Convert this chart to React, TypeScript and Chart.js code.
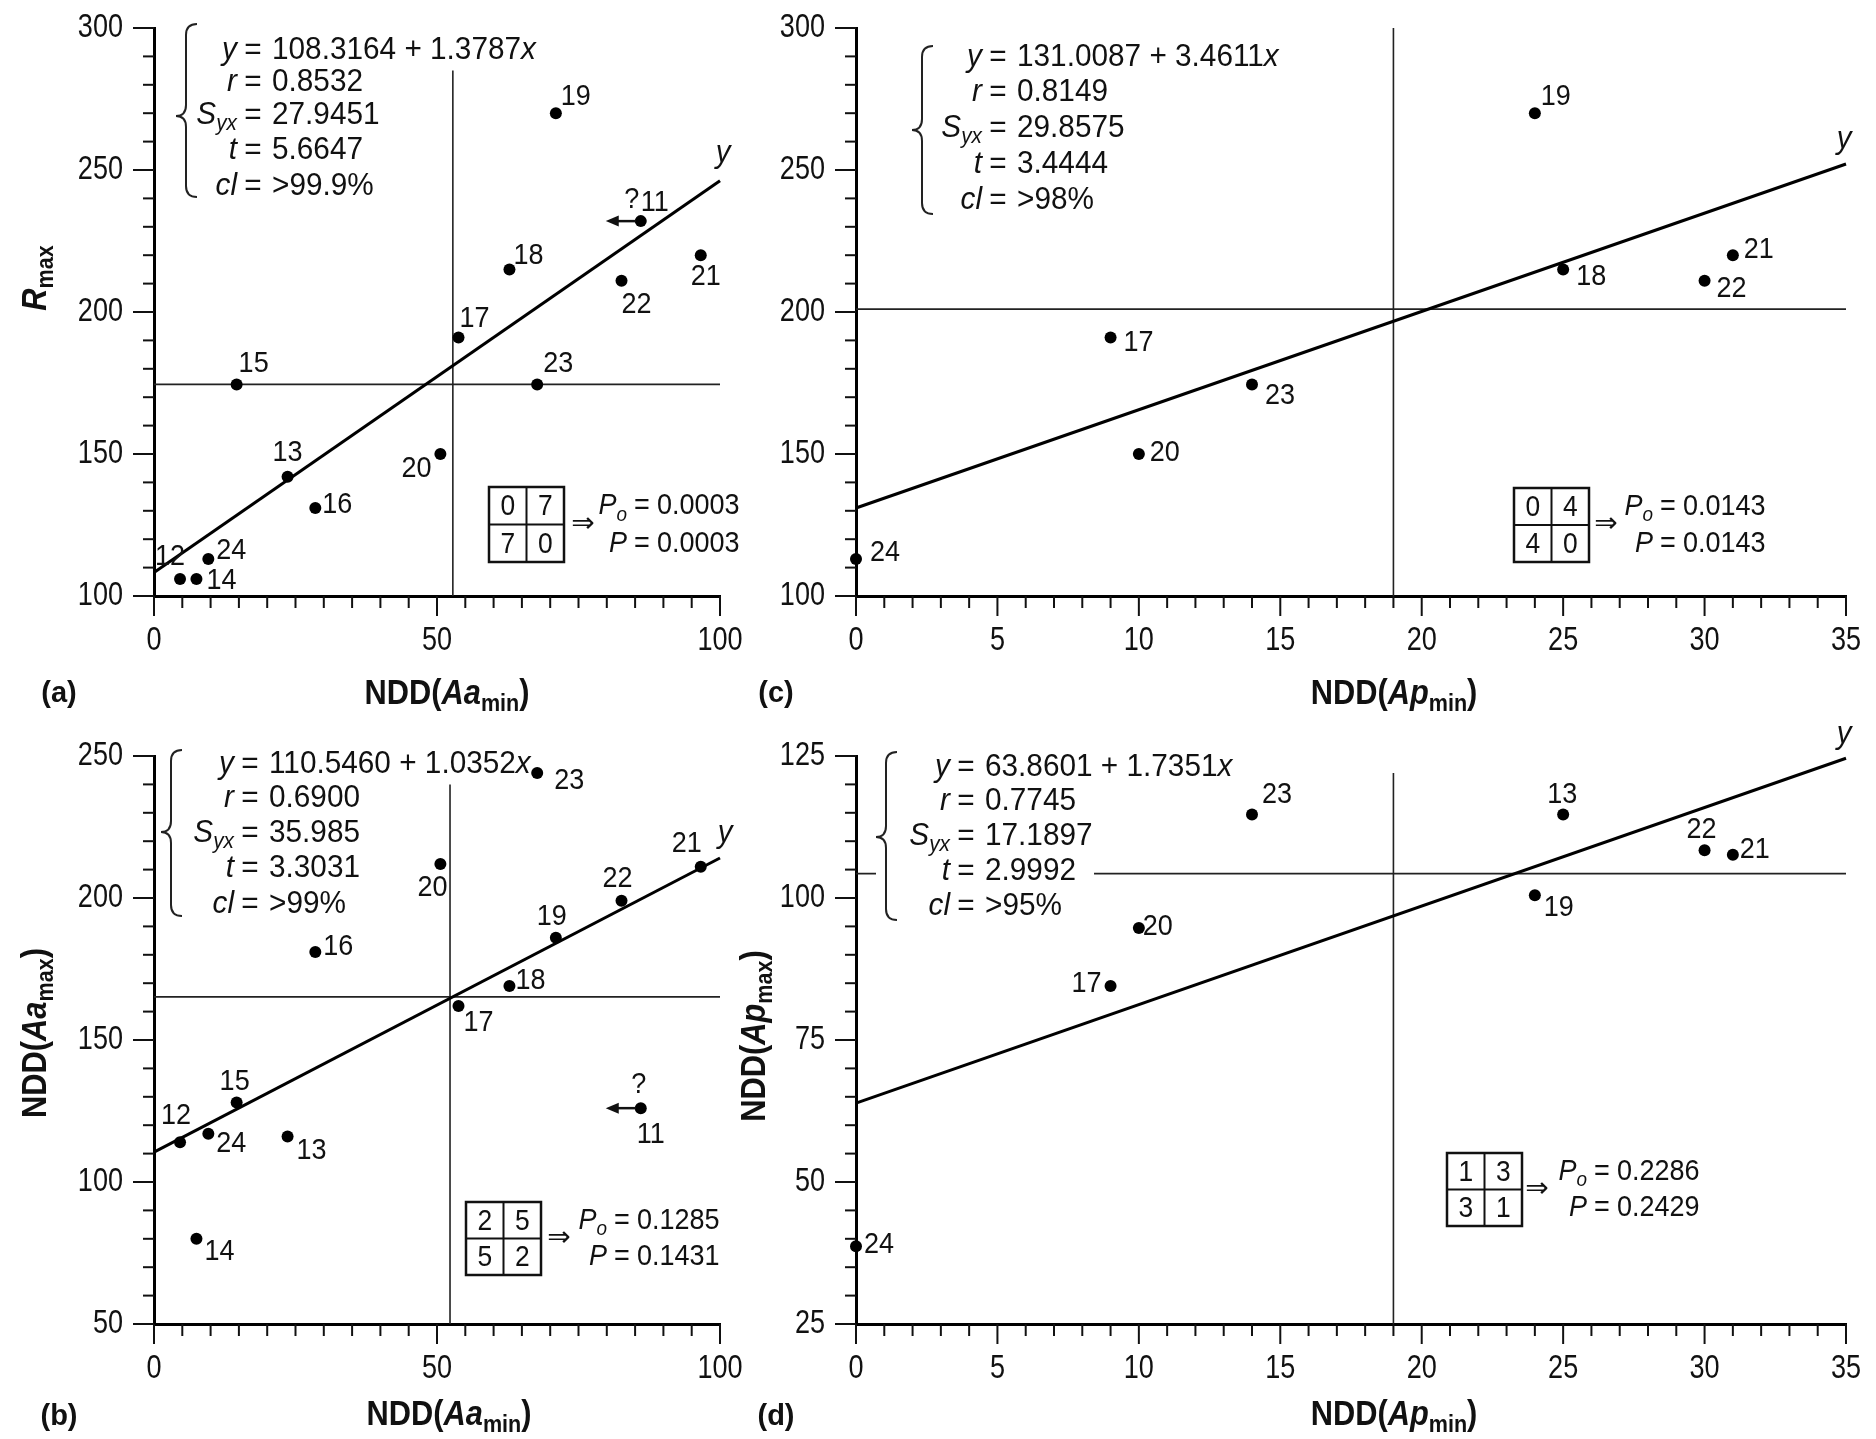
import React, { useEffect, useRef } from 'react';
import { Chart, registerables } from 'chart.js';

Chart.register(...registerables);

// ---------------- fonts / colours ----------------
const FAM = "'Liberation Sans', Arial, sans-serif";
const ARROW_FAM = "'DejaVu Sans', 'Liberation Sans', sans-serif";
const INK = '#111';

// ---------------- data ----------------
// Panels (a) and (b): samples plotted against NDD(Aa_min)
const samplesAa = ['11', '12', '13', '14', '15', '16', '17', '18', '19', '20', '21', '22', '23', '24'];
const nddAaMin = [86.0, 4.6, 23.6, 7.5, 14.6, 28.5, 53.8, 62.8, 71.0, 50.6, 96.6, 82.6, 67.7, 9.6];
const rMaxVsAa = [232, 106, 142, 106, 174.5, 131, 191, 215, 270, 150, 220, 211, 174.5, 113];
const nddAaMax = [126, 114, 116, 80, 128, 181, 162, 169, 186, 212, 211, 199, 244, 117];

// Panel (c): R_max against NDD(Ap_min)
const samplesApC = ['17', '18', '19', '20', '21', '22', '23', '24'];
const nddApMinC = [9, 25, 24, 10, 31, 30, 14, 0];
const rMaxVsAp = [191, 215, 270, 150, 220, 211, 174.5, 113];

// Panel (d): NDD(Ap_max) against NDD(Ap_min)
const samplesApD = ['13', '17', '19', '20', '21', '22', '23', '24'];
const nddApMinD = [25, 9, 24, 10, 31, 30, 14, 0];
const nddApMax = [114.7, 84.5, 100.5, 94.7, 107.6, 108.4, 114.7, 38.7];

// regression line end points
const fitXa = [0, 100];
const fitYa = [108.3, 246.2];
const fitXb = [0, 100];
const fitYb = [110.5, 214.1];
const fitXc = [0, 35];
const fitYc = [131.0, 252.1];
const fitXd = [0, 35];
const fitYd = [63.9, 124.6];

// median (quadrant) lines
const medVxA = [52.8, 52.8];
const medVyA = [100, 285];
const medHxA = [0, 100];
const medHyA = [174.5, 174.5];
const medVxB = [52.3, 52.3];
const medVyB = [50, 240];
const medHxB = [0, 100];
const medHyB = [165.2, 165.2];
const medVxC = [19, 19];
const medVyC = [100, 300];
const medHxC = [0, 35];
const medHyC = [201, 201];
const medVxD = [19, 19];
const medVyD = [25, 122];
const medHxD = [0, 35];
const medHyD = [104.3, 104.3];

// tick labels
const xTickLabelsAa = [0, 50, 100];
const xTickLabelsAp = [0, 5, 10, 15, 20, 25, 30, 35];
const yTickLabelsA = [100, 150, 200, 250, 300];
const yTickLabelsB = [50, 100, 150, 200, 250];
const yTickLabelsC = [100, 150, 200, 250, 300];
const yTickLabelsD = [25, 50, 75, 100, 125];

// statistics: [equation, r, Syx, t, cl]
const statsA = ['108.3164 + 1.3787', '0.8532', '27.9451', '5.6647', '>99.9%'];
const statsB = ['110.5460 + 1.0352', '0.6900', '35.985', '3.3031', '>99%'];
const statsC = ['131.0087 + 3.4611', '0.8149', '29.8575', '3.4444', '>98%'];
const statsD = ['63.8601 + 1.7351', '0.7745', '17.1897', '2.9992', '>95%'];

// 2x2 tables and probabilities [Po, P]
const tableA = ['0', '7', '7', '0'];
const probA = ['0.0003', '0.0003'];
const tableB = ['2', '5', '5', '2'];
const probB = ['0.1285', '0.1431'];
const tableC = ['0', '4', '4', '0'];
const probC = ['0.0143', '0.0143'];
const tableD = ['1', '3', '3', '1'];
const probD = ['0.2286', '0.2429'];

// ---------------- label placement (style, px offsets) ----------------
const labelOffA = [[14, -18], [-10, -22], [0, -24], [25, 2], [17, -21], [22, -3], [16, -19], [19, -14], [20, -16], [-24, 15], [5, 22], [15, 24], [21, -21], [23, -8]];
const labelOffB = [[10, 27], [-4, -27], [24, 14], [23, 13], [-2, -21], [23, -5], [20, 17], [21, -5], [-4, -21], [-8, 24], [-14, -23], [-4, -22], [32, 8], [23, 10]];
const labelOffC = [[28, 5], [28, 7], [21, -16], [26, -1], [26, -5], [27, 8], [28, 11], [29, -6]];
const labelOffD = [[-1, -20], [-24, -2], [24, 13], [19, -1], [22, -5], [-3, -21], [25, -20], [23, -1]];

// text styles
const TICK = { size: 33, hs: 0.82 };
const LBL = { size: 30, hs: 0.9 };
const ANN = { size: 31, hs: 0.96 };
const PRB = { size: 30, hs: 0.9 };
const TTL = { size: 35, hs: 0.88 };

// ---------------- helpers ----------------
type Part = { t: string; it?: boolean; b?: boolean; sub?: boolean };
type TOpt = { bold?: boolean; hs?: number; fam?: string };

function fontStr(size: number, it?: boolean, b?: boolean, fam = FAM) {
  return `${it ? 'italic ' : ''}${b ? 'bold ' : ''}${size}px ${fam}`;
}

function richWidth(ctx: CanvasRenderingContext2D, parts: Part[], size: number, o: TOpt = {}) {
  let w = 0;
  const hs = o.hs ?? 1;
  for (const p of parts) {
    const s = p.sub ? size * 0.7 : size;
    ctx.font = fontStr(s, p.it, p.b ?? o.bold, o.fam ?? FAM);
    w += ctx.measureText(p.t).width * hs;
  }
  return w;
}

function drawRich(
  ctx: CanvasRenderingContext2D,
  parts: Part[],
  x: number,
  y: number,
  size: number,
  align: 'left' | 'right' | 'center',
  o: TOpt = {}
) {
  const hs = o.hs ?? 1;
  const w = richWidth(ctx, parts, size, o);
  let cx = align === 'left' ? x : align === 'right' ? x - w : x - w / 2;
  ctx.textAlign = 'left';
  ctx.textBaseline = 'middle';
  for (const p of parts) {
    const s = p.sub ? size * 0.7 : size;
    ctx.font = fontStr(s, p.it, p.b ?? o.bold, o.fam ?? FAM);
    ctx.save();
    ctx.translate(cx, p.sub ? y + size * 0.3 : y);
    ctx.scale(hs, 1);
    ctx.fillText(p.t, 0, 0);
    ctx.restore();
    cx += ctx.measureText(p.t).width * hs;
  }
  return w;
}

function seg(ctx: CanvasRenderingContext2D, x1: number, y1: number, x2: number, y2: number) {
  ctx.beginPath();
  ctx.moveTo(x1, y1);
  ctx.lineTo(x2, y2);
  ctx.stroke();
}

function statLines(s: string[]): { lhs: Part[]; rhs: Part[] }[] {
  return [
    { lhs: [{ t: 'y', it: true }], rhs: [{ t: s[0] }, { t: 'x', it: true }] },
    { lhs: [{ t: 'r', it: true }], rhs: [{ t: s[1] }] },
    { lhs: [{ t: 'S', it: true }, { t: 'yx', it: true, sub: true }], rhs: [{ t: s[2] }] },
    { lhs: [{ t: 't', it: true }], rhs: [{ t: s[3] }] },
    { lhs: [{ t: 'cl', it: true }], rhs: [{ t: s[4] }] },
  ];
}

const titleAaMin: Part[] = [{ t: 'NDD(' }, { t: 'Aa', it: true }, { t: 'min', sub: true }, { t: ')' }];
const titleApMin: Part[] = [{ t: 'NDD(' }, { t: 'Ap', it: true }, { t: 'min', sub: true }, { t: ')' }];
const titleRmax: Part[] = [{ t: 'R', it: true }, { t: 'max', sub: true }];
const titleAaMax: Part[] = [{ t: 'NDD(' }, { t: 'Aa', it: true }, { t: 'max', sub: true }, { t: ')' }];
const titleApMax: Part[] = [{ t: 'NDD(' }, { t: 'Ap', it: true }, { t: 'max', sub: true }, { t: ')' }];

interface PanelCfg {
  key: string;
  left: number; top: number; width: number; height: number;
  area: { l: number; t: number; r: number; b: number };
  xr: { min: number; max: number; step: number; labels: number[] };
  yr: { min: number; max: number; step: number; labels: number[] };
  ids: string[]; xs: number[]; ys: number[]; offs: number[][];
  fitX: number[]; fitY: number[]; fitLabelOff: number[];
  medVx: number[]; medVy: number[]; medHx: number[]; medHy: number[];
  stats: string[]; eqX: number; statY: number[];
  brace: { tip: number; spine: number; end: number; top: number; mid: number; bottom: number };
  mask: number;
  table: string[]; prob: string[];
  tab: { x: number; y: number; cw: number; ch: number };
  arrowX: number; pEqX: number;
  unknown: { id: string; q: number[] }[];
  xTitle: Part[]; xTitleAt: number[];
  yTitle: Part[] | null; yTitleAt: number[];
  panelLabel: string; panelLabelAt: number[];
}

const panels: PanelCfg[] = [
  {
    key: 'a', left: 0, top: 0, width: 760, height: 720,
    area: { l: 154, t: 28, r: 720, b: 596 },
    xr: { min: 0, max: 100, step: 5, labels: xTickLabelsAa },
    yr: { min: 100, max: 300, step: 10, labels: yTickLabelsA },
    ids: samplesAa, xs: nddAaMin, ys: rMaxVsAa, offs: labelOffA,
    fitX: fitXa, fitY: fitYa, fitLabelOff: [3, -27],
    medVx: medVxA, medVy: medVyA, medHx: medHxA, medHy: medHyA,
    stats: statsA, eqX: 253, statY: [50, 82, 115, 150, 186],
    brace: { tip: 176, spine: 186, end: 197, top: 24, mid: 116, bottom: 197 },
    mask: 0,
    table: tableA, prob: probA, tab: { x: 489, y: 487, cw: 37.5, ch: 37.5 },
    arrowX: 583, pEqX: 642,
    unknown: [{ id: '11', q: [-9, -21] }],
    xTitle: titleAaMin, xTitleAt: [447, 694],
    yTitle: titleRmax, yTitleAt: [36, 278],
    panelLabel: '(a)', panelLabelAt: [59, 694],
  },
  {
    key: 'c', left: 730, top: 0, width: 1146, height: 720,
    area: { l: 856, t: 28, r: 1846, b: 596 },
    xr: { min: 0, max: 35, step: 1, labels: xTickLabelsAp },
    yr: { min: 100, max: 300, step: 10, labels: yTickLabelsC },
    ids: samplesApC, xs: nddApMinC, ys: rMaxVsAp, offs: labelOffC,
    fitX: fitXc, fitY: fitYc, fitLabelOff: [-2, -25],
    medVx: medVxC, medVy: medVyC, medHx: medHxC, medHy: medHyC,
    stats: statsC, eqX: 998, statY: [57, 92, 128, 164, 200],
    brace: { tip: 912, spine: 922, end: 933, top: 46, mid: 130, bottom: 214 },
    mask: 0,
    table: tableC, prob: probC, tab: { x: 1514, y: 488, cw: 37.5, ch: 37 },
    arrowX: 1606, pEqX: 1668,
    unknown: [],
    xTitle: titleApMin, xTitleAt: [1394, 694],
    yTitle: null, yTitleAt: [0, 0],
    panelLabel: '(c)', panelLabelAt: [776, 694],
  },
  {
    key: 'b', left: 0, top: 720, width: 760, height: 719,
    area: { l: 154, t: 756, r: 720, b: 1324 },
    xr: { min: 0, max: 100, step: 5, labels: xTickLabelsAa },
    yr: { min: 50, max: 250, step: 10, labels: yTickLabelsB },
    ids: samplesAa, xs: nddAaMin, ys: nddAaMax, offs: labelOffB,
    fitX: fitXb, fitY: fitYb, fitLabelOff: [5, -25],
    medVx: medVxB, medVy: medVyB, medHx: medHxB, medHy: medHyB,
    stats: statsB, eqX: 250, statY: [764, 798, 833, 868, 904],
    brace: { tip: 161, spine: 171, end: 182, top: 750, mid: 832, bottom: 916 },
    mask: 0,
    table: tableB, prob: probB, tab: { x: 466, y: 1202, cw: 37.5, ch: 36.5 },
    arrowX: 559, pEqX: 622,
    unknown: [{ id: '11', q: [-2, -23] }],
    xTitle: titleAaMin, xTitleAt: [449, 1415],
    yTitle: titleAaMax, yTitleAt: [36, 1033],
    panelLabel: '(b)', panelLabelAt: [59, 1417],
  },
  {
    key: 'd', left: 730, top: 720, width: 1146, height: 719,
    area: { l: 856, t: 756, r: 1846, b: 1324 },
    xr: { min: 0, max: 35, step: 1, labels: xTickLabelsAp },
    yr: { min: 25, max: 125, step: 5, labels: yTickLabelsD },
    ids: samplesApD, xs: nddApMinD, ys: nddApMax, offs: labelOffD,
    fitX: fitXd, fitY: fitYd, fitLabelOff: [-2, -24],
    medVx: medVxD, medVy: medVyD, medHx: medHxD, medHy: medHyD,
    stats: statsD, eqX: 966, statY: [767, 801, 836, 871, 906],
    brace: { tip: 876, spine: 886, end: 897, top: 752, mid: 837, bottom: 920 },
    mask: 18,
    table: tableD, prob: probD, tab: { x: 1447, y: 1153, cw: 37.5, ch: 36.5 },
    arrowX: 1537, pEqX: 1602,
    unknown: [],
    xTitle: titleApMin, xTitleAt: [1394, 1415],
    yTitle: titleApMax, yTitleAt: [755, 1036],
    panelLabel: '(d)', panelLabelAt: [776, 1417],
  },
];

// ---------------- decoration plugin ----------------
function tickText(t: any): string {
  const l = t.label;
  if (l === undefined || l === null) return '';
  return Array.isArray(l) ? l.join(' ') : String(l);
}

function drawDecor(chart: any, c: PanelCfg) {
  const ctx: CanvasRenderingContext2D = chart.ctx;
  const sx = chart.scales.x;
  const sy = chart.scales.y;
  const X = (v: number) => sx.getPixelForValue(v) + c.left;
  const Y = (v: number) => sy.getPixelForValue(v) + c.top;
  const ca = chart.chartArea;
  const L = ca.left + c.left;
  const B = ca.bottom + c.top;

  ctx.save();
  ctx.translate(-c.left, -c.top);
  ctx.fillStyle = INK;
  ctx.strokeStyle = INK;
  ctx.lineCap = 'butt';

  // tick marks and tick labels, from the scale's own ticks
  ctx.lineWidth = 2;
  for (const t of sx.ticks) {
    const px = X(t.value);
    const lab = tickText(t);
    seg(ctx, px, B, px, B + (lab ? 20 : 12));
    if (lab) drawRich(ctx, [{ t: lab }], px, B + 45, TICK.size, 'center', { hs: TICK.hs });
  }
  for (const t of sy.ticks) {
    const py = Y(t.value);
    const lab = tickText(t);
    seg(ctx, L, py, L - (lab ? 21 : 11), py);
    if (lab) drawRich(ctx, [{ t: lab }], L - 31, py, TICK.size, 'right', { hs: TICK.hs });
  }

  // point labels
  c.ids.forEach((id, i) => {
    const px = X(c.xs[i]) + c.offs[i][0];
    const py = Y(c.ys[i]) + c.offs[i][1];
    drawRich(ctx, [{ t: id }], px, py, LBL.size, 'center', { hs: LBL.hs });
  });

  // unknown-value arrows with "?"
  ctx.lineWidth = 2.5;
  for (const u of c.unknown) {
    const i = c.ids.indexOf(u.id);
    const px = X(c.xs[i]);
    const py = Y(c.ys[i]);
    seg(ctx, px - 5, py, px - 24, py);
    ctx.beginPath();
    ctx.moveTo(px - 35, py);
    ctx.lineTo(px - 22, py - 5.5);
    ctx.lineTo(px - 22, py + 5.5);
    ctx.closePath();
    ctx.fill();
    drawRich(ctx, [{ t: '?' }], px + u.q[0], py + u.q[1], LBL.size, 'center', { hs: LBL.hs });
  }

  // "y" label at regression line end
  {
    const n = c.fitX.length - 1;
    const px = X(c.fitX[n]) + c.fitLabelOff[0];
    const py = Y(c.fitY[n]) + c.fitLabelOff[1];
    drawRich(ctx, [{ t: 'y', it: true }], px, py, 31, 'center', { hs: 0.95 });
  }

  // statistics block
  const lines = statLines(c.stats);
  const lhsGap = 16;
  const rhsGap = 19;
  const ao = { hs: ANN.hs };
  if (c.mask > 0) {
    ctx.fillStyle = '#fff';
    lines.forEach((ln, i) => {
      const w = richWidth(ctx, ln.rhs, ANN.size, ao);
      const x0 = c.brace.tip;
      ctx.fillRect(x0, c.statY[i] - 17, c.eqX + rhsGap + w + c.mask - x0, 34);
    });
    ctx.fillStyle = INK;
  }
  lines.forEach((ln, i) => {
    const y = c.statY[i];
    drawRich(ctx, ln.lhs, c.eqX - lhsGap, y, ANN.size, 'right', ao);
    drawRich(ctx, [{ t: '=' }], c.eqX, y, ANN.size, 'center', ao);
    drawRich(ctx, ln.rhs, c.eqX + rhsGap, y, ANN.size, 'left', ao);
  });
  // brace
  {
    const br = c.brace;
    const r = br.end - br.spine;
    ctx.lineWidth = 2;
    ctx.strokeStyle = '#222';
    ctx.beginPath();
    ctx.moveTo(br.end, br.top);
    ctx.quadraticCurveTo(br.spine, br.top, br.spine, br.top + r);
    ctx.lineTo(br.spine, br.mid - r);
    ctx.quadraticCurveTo(br.spine, br.mid, br.tip, br.mid);
    ctx.quadraticCurveTo(br.spine, br.mid, br.spine, br.mid + r);
    ctx.lineTo(br.spine, br.bottom - r);
    ctx.quadraticCurveTo(br.spine, br.bottom, br.end, br.bottom);
    ctx.stroke();
    ctx.strokeStyle = INK;
  }

  // 2x2 table
  {
    const { x, y, cw, ch } = c.tab;
    ctx.lineWidth = 2.5;
    ctx.strokeRect(x, y, 2 * cw, 2 * ch);
    ctx.lineWidth = 2;
    seg(ctx, x + cw, y, x + cw, y + 2 * ch);
    seg(ctx, x, y + ch, x + 2 * cw, y + ch);
    const cells = [[0.5, 0.5], [1.5, 0.5], [0.5, 1.5], [1.5, 1.5]];
    cells.forEach((cc, k) => {
      drawRich(ctx, [{ t: c.table[k] }], x + cc[0] * cw, y + cc[1] * ch + 1, PRB.size, 'center', { hs: 0.88 });
    });
    ctx.font = `28px ${ARROW_FAM}`;
    ctx.textAlign = 'center';
    ctx.textBaseline = 'middle';
    ctx.fillText('\u21D2', c.arrowX, y + ch);
    const r1 = y + ch / 2;
    const r2 = y + 1.5 * ch;
    const o = { hs: PRB.hs };
    drawRich(ctx, [{ t: 'P', it: true }, { t: 'o', it: true, sub: true }], c.pEqX - 15, r1, PRB.size, 'right', o);
    drawRich(ctx, [{ t: '=' }], c.pEqX, r1, PRB.size, 'center', o);
    drawRich(ctx, [{ t: c.prob[0] }], c.pEqX + 15, r1, PRB.size, 'left', o);
    drawRich(ctx, [{ t: 'P', it: true }], c.pEqX - 15, r2, PRB.size, 'right', o);
    drawRich(ctx, [{ t: '=' }], c.pEqX, r2, PRB.size, 'center', o);
    drawRich(ctx, [{ t: c.prob[1] }], c.pEqX + 15, r2, PRB.size, 'left', o);
  }

  // axis titles and panel label
  drawRich(ctx, c.xTitle, c.xTitleAt[0], c.xTitleAt[1], TTL.size, 'center', { bold: true, hs: TTL.hs });
  if (c.yTitle) {
    ctx.save();
    ctx.translate(c.yTitleAt[0], c.yTitleAt[1]);
    ctx.rotate(-Math.PI / 2);
    drawRich(ctx, c.yTitle, 0, 0, TTL.size, 'center', { bold: true, hs: TTL.hs });
    ctx.restore();
  }
  drawRich(ctx, [{ t: c.panelLabel }], c.panelLabelAt[0], c.panelLabelAt[1], 29, 'center', { bold: true });

  ctx.restore();
}

function pts(xs: number[], ys: number[]) {
  return xs.map((x, i) => ({ x, y: ys[i] }));
}

function buildConfig(c: PanelCfg): any {
  const aL = c.area.l - c.left;
  const aT = c.area.t - c.top;
  const aR = c.area.r - c.left;
  const aB = c.area.b - c.top;
  const XH = 90;
  const isLabel = (arr: number[]) => (v: any) => {
    const n = Number(v);
    return arr.some((a) => Math.abs(a - n) < 1e-6) ? String(n) : '';
  };
  return {
    type: 'scatter',
    data: {
      datasets: [
        {
          data: pts(c.xs, c.ys),
          pointRadius: 6,
          pointHoverRadius: 6,
          pointBackgroundColor: '#000',
          pointBorderWidth: 0,
          clip: false,
          order: 0,
        },
        {
          data: pts(c.fitX, c.fitY),
          showLine: true,
          borderColor: '#000',
          borderWidth: 3,
          pointRadius: 0,
          clip: false,
          order: 1,
        },
        {
          data: pts(c.medVx, c.medVy),
          showLine: true,
          borderColor: '#222',
          borderWidth: 1.6,
          pointRadius: 0,
          clip: false,
          order: 2,
        },
        {
          data: pts(c.medHx, c.medHy),
          showLine: true,
          borderColor: '#222',
          borderWidth: 1.6,
          pointRadius: 0,
          clip: false,
          order: 3,
        },
      ],
    },
    options: {
      responsive: false,
      maintainAspectRatio: false,
      animation: false,
      events: [],
      layout: {
        padding: { left: 0, top: aT, right: c.width - aR, bottom: c.height - aB - XH },
      },
      plugins: {
        legend: { display: false },
        tooltip: { enabled: false },
        title: { display: false },
      },
      scales: {
        x: {
          type: 'linear',
          position: 'bottom',
          min: c.xr.min,
          max: c.xr.max,
          afterFit: (s: any) => {
            s.height = XH;
          },
          grid: { display: false },
          border: { display: true, width: 3, color: '#000' },
          ticks: {
            display: false,
            stepSize: c.xr.step,
            maxTicksLimit: 1000,
            autoSkip: false,
            callback: isLabel(c.xr.labels),
          },
        },
        y: {
          type: 'linear',
          position: 'left',
          min: c.yr.min,
          max: c.yr.max,
          afterFit: (s: any) => {
            s.width = aL;
          },
          grid: { display: false },
          border: { display: true, width: 3, color: '#000' },
          ticks: {
            display: false,
            stepSize: c.yr.step,
            maxTicksLimit: 1000,
            autoSkip: false,
            callback: isLabel(c.yr.labels),
          },
        },
      },
    },
    plugins: [
      {
        id: 'decor_' + c.key,
        afterDraw: (chart: any) => drawDecor(chart, c),
      },
    ],
  };
}

function Panel({ cfg }: { cfg: PanelCfg }) {
  const ref = useRef<HTMLCanvasElement>(null);
  useEffect(() => {
    const canvas = ref.current;
    if (!canvas) return;
    const chart = new Chart(canvas, buildConfig(cfg));
    return () => chart.destroy();
  }, [cfg]);
  return (
    <canvas
      ref={ref}
      width={cfg.width}
      height={cfg.height}
      style={{ position: 'absolute', left: cfg.left, top: cfg.top, width: cfg.width, height: cfg.height }}
    />
  );
}

export default function App() {
  return (
    <div
      style={{
        position: 'absolute',
        left: 0,
        top: 0,
        width: 1876,
        height: 1439,
        background: '#fff',
        overflow: 'hidden',
      }}
    >
      {panels.map((p) => (
        <Panel key={p.key} cfg={p} />
      ))}
    </div>
  );
}
